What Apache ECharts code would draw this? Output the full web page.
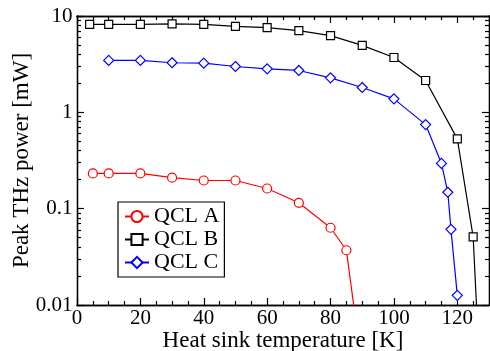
<!DOCTYPE html>
<html><head><meta charset="utf-8">
<script src="https://cdn.jsdelivr.net/npm/echarts@6/dist/echarts.min.js"></script>
<style>html,body{margin:0;padding:0;background:#fff}#c{width:490px;height:351px}</style>
</head><body><div id="c"></div>
<script>
const tempA = [5, 10, 20, 30, 40, 50, 60, 70, 80, 85, 88];
const powerA = [0.232, 0.232, 0.232, 0.21, 0.196, 0.196, 0.162, 0.115, 0.0634, 0.037, 0.0067];
const tempB = [4, 10, 20, 30, 40, 50, 60, 70, 80, 90, 100, 110, 120, 125, 127];
const powerB = [8.2, 8.2, 8.2, 8.3, 8.2, 7.8, 7.57, 7.04, 6.25, 4.95, 3.71, 2.14, 0.53, 0.051, 0.0023];
const tempC = [10, 20, 30, 40, 50, 60, 70, 80, 90, 100, 110, 115, 117, 118, 120];
const powerC = [3.46, 3.46, 3.27, 3.24, 2.99, 2.83, 2.72, 2.28, 1.81, 1.38, 0.746, 0.295, 0.148, 0.061, 0.0126];
const seriesNames = ['QCL A', 'QCL B', 'QCL C'];
const xMajorTicks = [0, 20, 40, 60, 80, 100, 120];
const xMinorTicks = [5, 10, 15, 25, 30, 35, 45, 50, 55, 65, 70, 75, 85, 90, 95, 105, 110, 115, 125];
const yMajorTicks = [0.01, 0.1, 1, 10];
const yMinorTicks = [0.02, 0.03, 0.04, 0.05, 0.06, 0.07, 0.08, 0.09,
                     0.2, 0.3, 0.4, 0.5, 0.6, 0.7, 0.8, 0.9,
                     2, 3, 4, 5, 6, 7, 8, 9];
const X_MIN = 0, X_MAX = 130, Y_MIN = 0.01, Y_MAX = 10;

const FONT = 'Liberation Serif';
const zip = (xs, ys) => xs.map((x, i) => [x, ys[i]]);
const lg = v => Math.log10(v);

const axisLine = { show: true, onZero: false, lineStyle: { color: '#000', width: 1.3 } };
const MAJ = 7, MIN = 4;
const tickLabelStyle = { show: true, fontFamily: FONT, fontSize: 21, color: '#000', opacity: 1 };

function xAxisDef(pos, major, name) {
  return {
    type: 'value', position: pos, min: X_MIN, max: X_MAX,
    name: name || '', nameLocation: 'middle', nameGap: 24, nameMoveOverlap: false,
    nameTextStyle: { fontFamily: FONT, fontSize: 23, color: '#000' },
    axisLine: axisLine,
    axisTick: { show: true, inside: true, length: major ? MAJ : MIN,
      customValues: major ? xMajorTicks : xMinorTicks,
      lineStyle: { color: '#000', width: 1.2 } },
    axisLabel: { show: false },
    splitLine: { show: false }
  };
}
function yDef(pos, major, name) {
  return {
    type: 'value', position: pos, min: lg(Y_MIN), max: lg(Y_MAX),
    name: name || '', nameLocation: 'middle', nameGap: 44, nameMoveOverlap: false,
    nameTextStyle: { fontFamily: FONT, fontSize: 23, color: '#000' },
    axisLine: axisLine,
    axisTick: { show: true, inside: true, length: major ? MAJ : MIN,
      customValues: (major ? yMajorTicks : yMinorTicks).map(lg),
      lineStyle: { color: '#000', width: 1.2 } },
    axisLabel: { show: false },
    splitLine: { show: false }
  };
}

const colors = ['#ff0000', '#000000', '#0000ff'];
const symbols = ['circle', 'rect', 'diamond'];
const sizes = [9, 8, 10];
const datasets = [zip(tempA, powerA), zip(tempB, powerB), zip(tempC, powerC)];

const dataSeries = seriesNames.map((n, i) => ({
  name: n, type: 'line', xAxisIndex: 0, yAxisIndex: 0,
  data: datasets[i], clip: true,
  symbol: symbols[i], symbolSize: sizes[i], showAllSymbol: true,
  lineStyle: { color: colors[i], width: 1.2 },
  itemStyle: { color: '#fff', borderColor: colors[i], borderWidth: 1.2 },
  emphasis: { disabled: true }
}));
const hiddenMark = { color: 'rgba(255,255,255,0)', borderWidth: 0 };
const xLabelSeries = {
  name: 'xTickLabels', type: 'scatter', xAxisIndex: 0, yAxisIndex: 0, silent: true, clip: false,
  symbol: 'circle', symbolSize: 1, itemStyle: hiddenMark,
  data: xMajorTicks.map(v => [v, Y_MIN]),
  label: Object.assign({ position: 'bottom', distance: 2, formatter: p => String(p.value[0]) }, tickLabelStyle),
  emphasis: { disabled: true }
};
const yLabelSeries = {
  name: 'yTickLabels', type: 'scatter', xAxisIndex: 0, yAxisIndex: 0, silent: true, clip: false,
  symbol: 'circle', symbolSize: 1, itemStyle: hiddenMark,
  data: yMajorTicks.map(v => [X_MIN, v]),
  label: Object.assign({ position: 'left', distance: 4, formatter: p => String(p.value[1]) }, tickLabelStyle),
  emphasis: { disabled: true }
};

const chart = echarts.init(document.getElementById('c'), null, { renderer: 'canvas' });
chart.setOption({
  animation: false,
  backgroundColor: '#fff',
  grid: { left: 77, right: 1, top: 16, bottom: 46, containLabel: false, outerBoundsMode: 'none' },
  xAxis: [
    xAxisDef('bottom', true, 'Heat sink temperature [K]'),
    xAxisDef('bottom', false),
    xAxisDef('top', true),
    xAxisDef('top', false)
  ],
  yAxis: [
    { type: 'log', position: 'left', min: Y_MIN, max: Y_MAX, logBase: 10,
      axisLine: { show: false }, axisTick: { show: false }, axisLabel: { show: false },
      splitLine: { show: false } },
    yDef('left', true, 'Peak THz power [mW]'),
    yDef('left', false),
    yDef('right', true),
    yDef('right', false)
  ],
  legend: {
    left: 118, top: 202, orient: 'vertical',
    data: seriesNames,
    itemWidth: 24, itemHeight: 14, itemGap: 0,
    padding: [3, 5, 3, 6],
    borderColor: '#000', borderWidth: 1.2, backgroundColor: '#fff',
    textStyle: { fontFamily: FONT, fontSize: 22, color: '#000', lineHeight: 23 }
  },
  series: dataSeries.concat([xLabelSeries, yLabelSeries])
});
</script></body></html>
